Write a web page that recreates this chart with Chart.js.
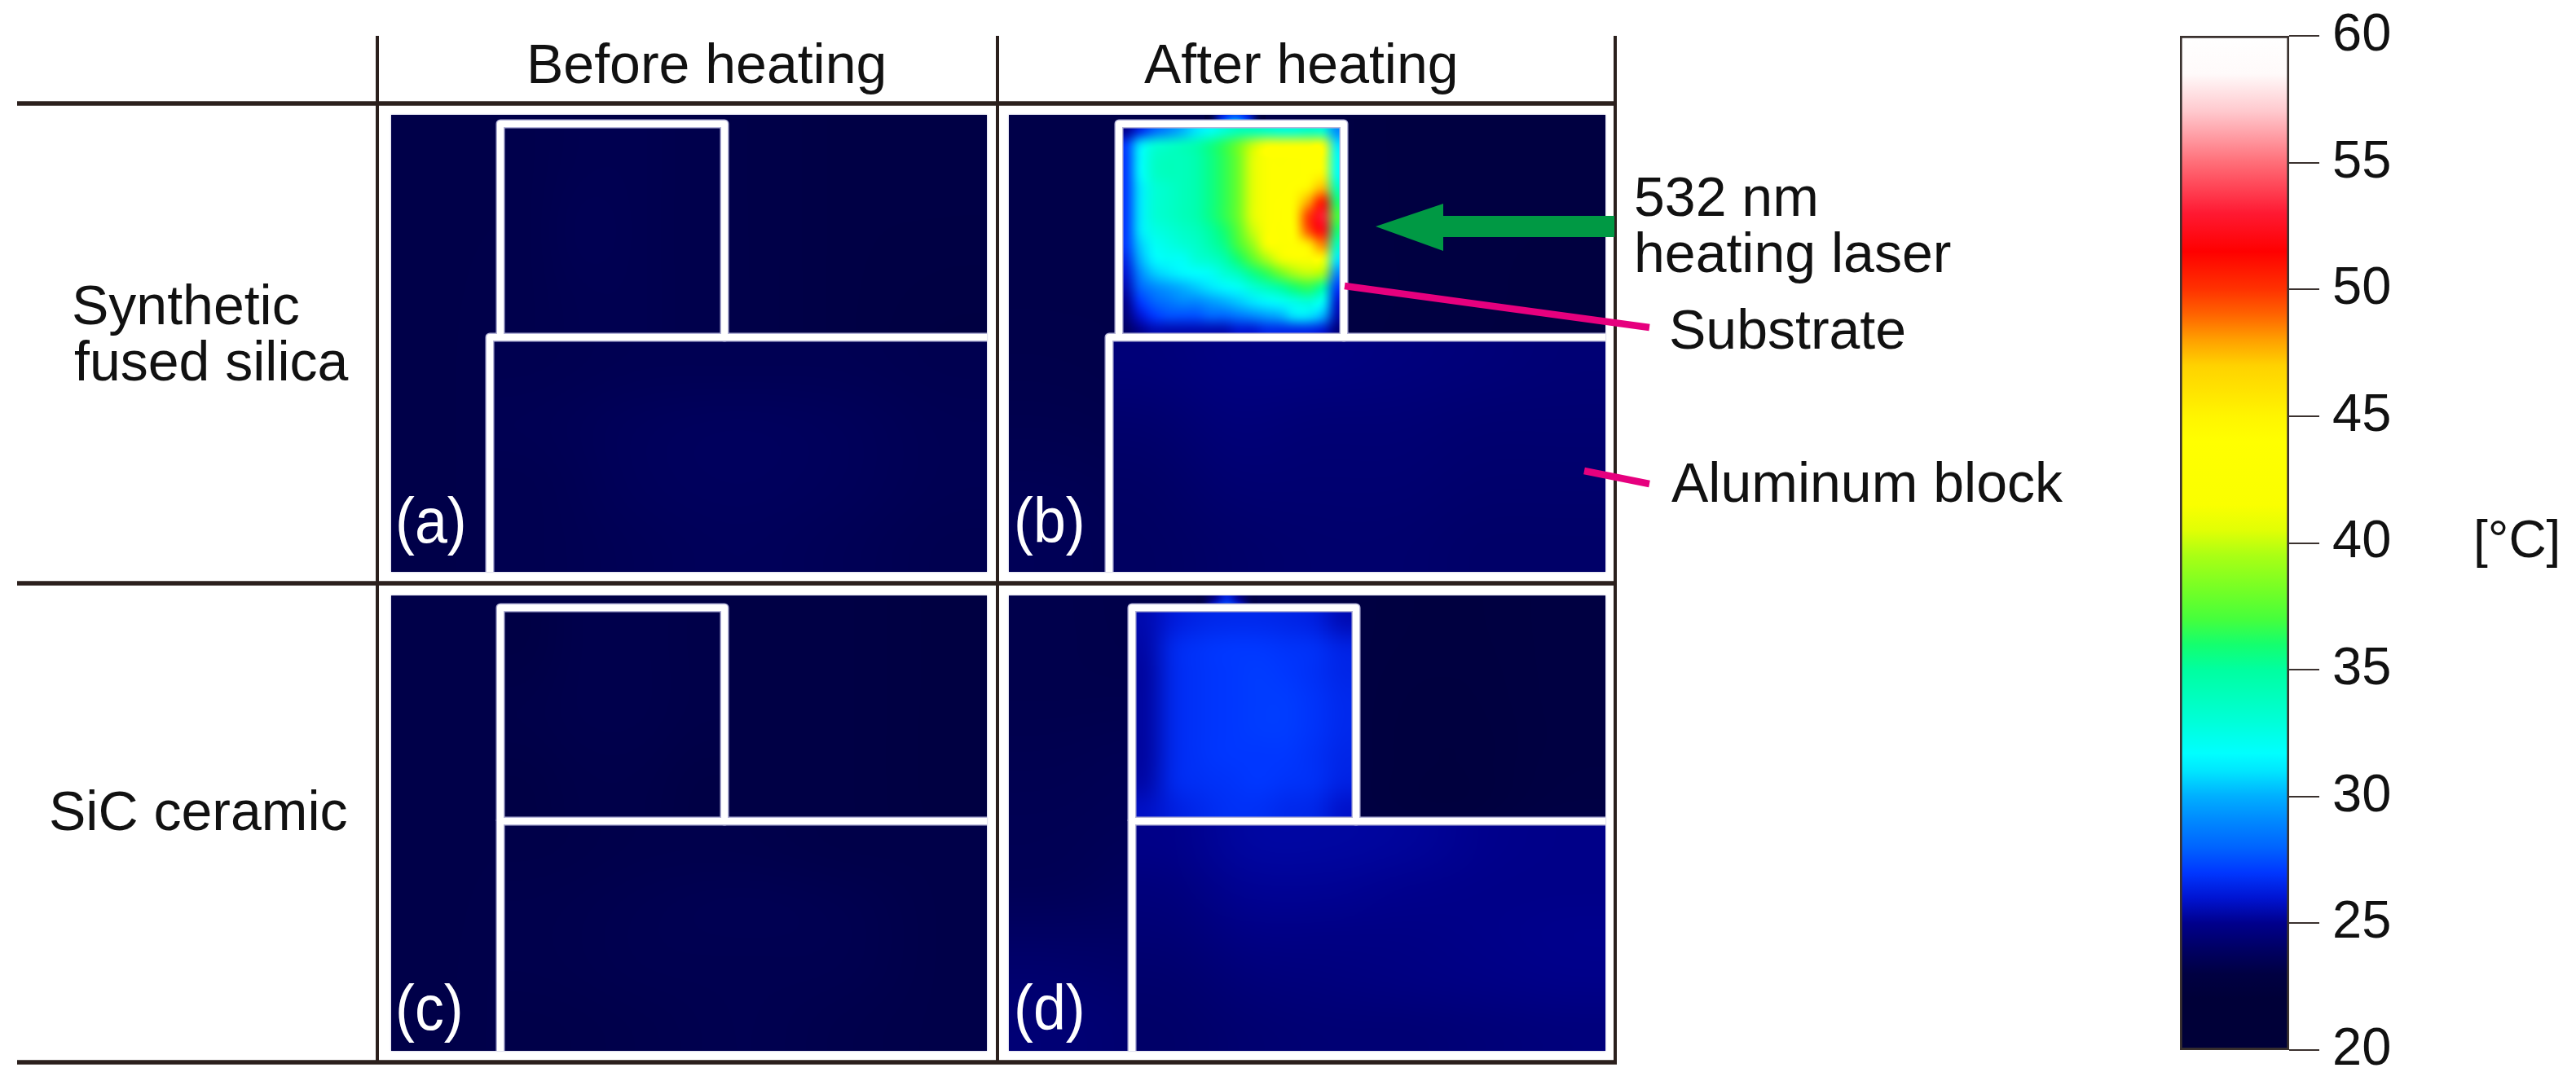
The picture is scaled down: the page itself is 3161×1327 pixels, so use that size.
<!DOCTYPE html>
<html lang="en">
	<head>
		<meta charset="utf-8">
		<title>Thermal images before and after heating</title>
		<script src="https://cdnjs.cloudflare.com/ajax/libs/Chart.js/4.4.1/chart.umd.min.js"></script>
		<style>
			html, body { margin: 0; background: #fff; width: 3161px; height: 1327px; overflow: hidden; }
			canvas { position: absolute; }
			.panel { box-shadow: 0 0 2px #a8a8d0; }
			.t { position: absolute; font: 68px/1 "Liberation Sans", Arial, sans-serif; color: #111; white-space: nowrap; z-index: 2; }
			.tag { font-size: 78px; color: #fff; transform: scaleX(0.92); transform-origin: left; }
			svg { position: absolute; left: 0; top: 0; z-index: 1; }
		</style>
	</head>
	<body>
		<svg width="3161" height="1327">
			<g stroke="#2b201d" fill="none">
				<path stroke-width="5.5" d="M21 127H1984M21 716H1984M21 1304H1984"/>
				<path stroke-width="4" d="M463 44V1306M1224 44V1306M1982 44V1306"/>
			</g>
			<path fill="#009944" d="M1981 265H1771V250L1688 278L1771 308V291H1981Z"/>
			<g stroke="#e6007e" stroke-width="8.5">
				<path d="M1650 351L2024 402"/>
				<path d="M1944 578L2024 594"/>
			</g>
		</svg>

		<div class="t" style="left:646px;top:44px">Before heating</div>
		<div class="t" style="left:1404px;top:44px">After heating</div>
		<div class="t" style="left:88px;top:340px">Synthetic</div>
		<div class="t" style="left:91px;top:409px">fused silica</div>
		<div class="t" style="left:60px;top:961px">SiC ceramic</div>
		<div class="t" style="left:2005px;top:207px">532 nm</div>
		<div class="t" style="left:2005px;top:276px">heating laser</div>
		<div class="t" style="left:2048px;top:370px">Substrate</div>
		<div class="t" style="left:2051px;top:558px">Aluminum block</div>
		<div class="t" style="left:3035px;top:630px;font-size:64px">[°C]</div>
		<div class="t tag" style="left:485px;top:600px">(a)</div>
		<div class="t tag" style="left:1244px;top:600px">(b)</div>
		<div class="t tag" style="left:485px;top:1198px">(c)</div>
		<div class="t tag" style="left:1244px;top:1198px">(d)</div>

		<canvas id="panelA" class="panel" width="731" height="561" style="left:480px;top:141px"></canvas>
		<canvas id="panelB" class="panel" width="732" height="561" style="left:1238px;top:141px"></canvas>
		<canvas id="panelC" class="panel" width="731" height="559" style="left:480px;top:731px"></canvas>
		<canvas id="panelD" class="panel" width="732" height="559" style="left:1238px;top:731px"></canvas>
		<canvas id="colorbar" width="300" height="1327" style="left:2650px;top:0"></canvas>

		<script>
			// colour scale
			const barTicks = [20, 25, 30, 35, 40, 45, 50, 55, 60]
			const stopTemps = [20, 22, 23, 24, 25, 26, 27, 28, 29, 30, 31, 31.7, 33, 35, 36, 37, 38, 39.5, 40.5, 41.5, 44, 45, 47, 48, 49, 50, 51.5, 53, 55, 57, 58.5, 60]
			const stopColors = [
				[0,0,56],[0,0,56],[0,0,66],[0,0,100],[0,0,140],[0,20,210],[0,55,255],[0,100,255],[0,135,255],[0,175,255],[0,230,255],[0,255,255],
				[0,255,215],[0,255,160],[20,255,110],[70,255,60],[110,255,40],[170,255,20],[225,255,5],[250,255,0],[255,255,0],[255,245,0],
				[255,210,0],[255,160,0],[255,100,0],[255,50,0],[255,0,0],[255,25,50],[255,110,120],[255,200,205],[255,250,250],[255,255,255]
			]

			// outlines, in thermal image pixels
			const subAX = [134, 134, 409, 409], subAY = [273, 11, 11, 273]
			const blockAX = [121, 121, 731], blockAY = [561, 273, 273]
			const subBX = [135, 135, 411, 411], subBY = [273, 11, 11, 273]
			const blockBX = [123, 123, 732], blockBY = [561, 273, 273]
			const subCX = [134, 134, 409, 409], subCY = [277, 15, 15, 277]
			const blockCX = [134, 134, 731], blockCY = [559, 277, 277]
			const subDX = [151, 151, 426, 426], subDY = [277, 15, 15, 277]
			const blockDX = [151, 151, 732], blockDY = [559, 277, 277]
			const glowBX = [240, 315], glowDX = [230, 305]

			// temperatures in deg C
			const backA = [
				[23.2, 23.2, 23.1, 23.2, 23.1, 23.1],
				[23.2, 23.3, 23.2, 23.2, 23.1, 23.0],
				[23.2, 23.3, 23.2, 23.2, 23.1, 23.0]
			]
			const subA = [
				[23.3, 23.4, 23.4, 23.3],
				[23.3, 23.5, 23.4, 23.3],
				[23.3, 23.4, 23.4, 23.3]
			]
			const blockA = [
				[23.4, 23.5, 23.5, 23.5, 23.4],
				[23.5, 23.7, 23.8, 23.7, 23.5],
				[23.4, 23.7, 23.8, 23.7, 23.5],
				[23.4, 23.6, 23.7, 23.6, 23.4]
			]
			const backB = [
				[23.2, 23.2, 23.2, 23.0, 22.9, 22.9],
				[23.2, 23.2, 23.1, 23.0, 22.9, 22.8],
				[23.3, 23.2, 23.1, 23.0, 22.9, 22.9],
				[23.6, 23.4, 23.2, 23.2, 23.2, 23.3]
			]
			const subB = [
				[25, 26.5, 28, 29, 30, 31, 32, 33, 34, 34, 33.5, 33, 33, 33.5, 33, 29],
				[27, 31, 33, 33.5, 34, 34.5, 35.5, 36.5, 38, 40, 42, 42.5, 43, 43, 43, 31],
				[27, 31.5, 33.5, 34, 34, 34.5, 35.5, 36.5, 38, 40.5, 42.5, 43, 43.5, 44, 44, 32],
				[27, 31.5, 33.5, 34, 34, 34.5, 35.5, 36.5, 38, 40.5, 42.5, 43.5, 43.5, 44, 44.5, 32],
				[27, 31, 33, 33.5, 34, 34.5, 35.5, 36.5, 38, 40.5, 42.5, 43.5, 44, 45, 47.5, 34],
				[27, 31, 33, 33.5, 34, 34.5, 35.5, 36.5, 38, 40.5, 42.5, 44, 44.5, 48, 51, 36],
				[27, 31, 33, 33.5, 34, 34.5, 35.5, 36.5, 38, 40.5, 42.5, 44, 45, 50, 53, 37],
				[27, 31, 32.5, 33, 33.5, 34, 35, 36, 37.5, 40, 42.5, 43.5, 44.5, 49.5, 52, 36],
				[27, 30.5, 32, 32.5, 33, 33.5, 34.5, 35.5, 37, 39, 41.5, 43, 44, 45.5, 48.5, 34],
				[26.5, 30, 31.5, 32, 32, 33, 33.5, 34.5, 36, 37.5, 39.5, 41, 42, 42.5, 42.5, 31],
				[26, 29, 30.5, 31, 31.5, 31.7, 32, 33, 34, 35.5, 36.5, 38, 39.5, 40, 39.5, 29],
				[25.5, 28, 29, 29.5, 30, 30.5, 31, 31.5, 32, 33, 34, 35, 36, 36.5, 35, 27],
				[25, 27, 28, 28.5, 29, 29, 29.5, 30, 30.5, 31, 31.5, 32, 32.5, 33, 32, 26],
				[24.5, 26, 27, 27.5, 27.5, 27.5, 28, 28, 28.5, 29, 29.5, 30, 31, 31, 30, 25.5],
				[24, 25, 25.5, 25.5, 25.5, 25.5, 25.5, 25.5, 26, 26, 26.5, 26.5, 26.5, 26.5, 26, 24.5]
			]
			const blockB = [
				[24.5, 24.7, 24.7, 24.6, 24.5, 24.4],
				[24.2, 24.5, 24.4, 24.4, 24.3, 24.3],
				[24.0, 24.3, 24.3, 24.3, 24.2, 24.2],
				[23.9, 24.1, 24.2, 24.2, 24.1, 24.1]
			]
			const glowB = [[23, 26.5, 28, 26.5, 23], [23, 28, 31, 28, 23]]
			const backC = [
				[23.2, 23.2, 23.1, 23.1, 23.1, 23.0],
				[23.2, 23.2, 23.1, 23.1, 23.1, 23.0],
				[23.2, 23.3, 23.2, 23.1, 23.1, 23.1]
			]
			const subC = [
				[23.1, 23.3, 23.3, 23.2],
				[23.2, 23.3, 23.3, 23.2],
				[23.1, 23.2, 23.2, 23.1]
			]
			const blockC = [
				[23.2, 23.3, 23.3, 23.2, 23.2],
				[23.3, 23.4, 23.5, 23.4, 23.2],
				[23.3, 23.4, 23.4, 23.4, 23.2],
				[23.2, 23.3, 23.4, 23.3, 23.2]
			]
			const backD = [
				[23.3, 23.2, 23.3, 23.0, 22.8, 23.0],
				[23.3, 23.3, 23.3, 22.9, 22.7, 23.0],
				[23.4, 23.5, 23.3, 22.9, 22.6, 23.0],
				[23.5, 23.6, 23.3, 23.0, 22.7, 23.1],
				[23.6, 23.8, 23.4, 23.4, 23.5, 23.6],
				[24.1, 24.0, 23.7, 23.6, 23.6, 23.6],
				[24.4, 24.2, 23.7, 23.6, 23.6, 23.6]
			]
			const subD = [
				[25.5, 26.2, 26.5, 26.6, 26.6, 26.5, 26.3, 25.6],
				[25.4, 26.6, 26.9, 27.0, 27.0, 26.9, 26.8, 26.4],
				[25.3, 26.6, 26.9, 27.0, 27.1, 27.0, 26.8, 26.5],
				[25.3, 26.6, 26.9, 27.0, 27.1, 27.1, 26.9, 26.6],
				[25.3, 26.6, 26.9, 27.0, 27.1, 27.1, 26.9, 26.6],
				[25.3, 26.6, 26.9, 27.0, 27.0, 27.0, 26.8, 26.5],
				[25.4, 26.6, 26.8, 26.9, 27.0, 26.9, 26.8, 26.4],
				[25.8, 26.3, 26.6, 26.8, 26.8, 26.6, 26.5, 25.9]
			]
			const blockD = [
				[24.9, 25.3, 25.3, 25.2, 25.0, 24.9],
				[24.6, 25.1, 25.1, 25.0, 24.9, 24.9],
				[24.4, 24.8, 24.8, 24.8, 24.9, 25.0],
				[24.2, 24.5, 24.6, 24.7, 24.8, 24.9],
				[24.1, 24.3, 24.4, 24.4, 24.5, 24.6]
			]
			const glowD = [[23.2, 25, 26.5, 25, 23.2], [23.2, 26, 27.5, 26, 23.2]]

			function colorOf(t) {
				let i = stopTemps.findIndex(s => s >= t)
				if (i <= 0) return stopColors[Math.max(i, 0)]
				const k = (t - stopTemps[i - 1]) / (stopTemps[i] - stopTemps[i - 1])
				return stopColors[i].map((c, n) => stopColors[i - 1][n] + (c - stopColors[i - 1][n]) * k)
			}

			function gridImage(grid) {
				const c = document.createElement("canvas")
				c.width = grid[0].length
				c.height = grid.length
				const g = c.getContext("2d")
				const img = g.createImageData(c.width, c.height)
				grid.forEach((row, y) => row.forEach((t, x) => {
					img.data.set([...colorOf(t), 255], (y * c.width + x) * 4)
				}))
				g.putImageData(img, 0, 0)
				return c
			}

			const thermalImage = {
				id: "thermalImage",
				beforeDatasetsDraw(chart, args, opts) {
					const { x, y } = chart.scales
					const ctx = chart.ctx
					ctx.save()
					ctx.imageSmoothingEnabled = true
					ctx.imageSmoothingQuality = "high"
					opts.layers.forEach(l => {
						const x0 = x.getPixelForValue(l.xr[0]), x1 = x.getPixelForValue(l.xr[1])
						const y0 = y.getPixelForValue(l.yr[0]), y1 = y.getPixelForValue(l.yr[1])
						ctx.drawImage(gridImage(l.grid), x0, y0, x1 - x0, y1 - y0)
					})
					ctx.restore()
				}
			}

			function outline(xs, ys, color, width) {
				return {
					data: xs.map((v, i) => ({ x: v, y: ys[i] })),
					showLine: true,
					pointRadius: 0,
					borderColor: color,
					borderWidth: width,
					borderJoinStyle: "round"
				}
			}

			function panel(id, back, sub, subX, subY, block, blockX, blockY, glow, glowX) {
				const canvas = document.getElementById(id)
				const range = a => [Math.min(...a), Math.max(...a)]
				const layers = [
					{ grid: back, xr: [0, canvas.width], yr: [0, canvas.height] },
					{ grid: block, xr: range(blockX), yr: range(blockY) },
					{ grid: sub, xr: range(subX), yr: range(subY) }
				]
				if (glow) layers.splice(1, 0, { grid: glow, xr: glowX, yr: [0, subY[1]] })
				new Chart(canvas, {
					type: "scatter",
					data: {
						// first dataset ends up on top
						datasets: [
							outline(subX, subY, "#fff", 8),
							outline(blockX, blockY, "#fff", 8),
							outline(subX, subY, "#b4b4d8", 11),
							outline(blockX, blockY, "#b4b4d8", 11)
						]
					},
					options: {
						responsive: false,
						animation: false,
						layout: { padding: 0 },
						plugins: { legend: { display: false }, tooltip: { enabled: false }, thermalImage: { layers } },
						scales: {
							x: { type: "linear", display: false, min: 0, max: canvas.width },
							y: { type: "linear", display: false, reverse: true, min: 0, max: canvas.height }
						}
					},
					plugins: [thermalImage]
				})
			}

			panel("panelA", backA, subA, subAX, subAY, blockA, blockAX, blockAY)
			panel("panelB", backB, subB, subBX, subBY, blockB, blockBX, blockBY, glowB, glowBX)
			panel("panelC", backC, subC, subCX, subCY, blockC, blockCX, blockCY)
			panel("panelD", backD, subD, subDX, subDY, blockD, blockDX, blockDY, glowD, glowDX)

			new Chart(document.getElementById("colorbar"), {
				type: "bar",
				data: {
					labels: [""],
					datasets: [{
						data: [[barTicks[0], barTicks[barTicks.length - 1]]],
						barPercentage: 1,
						categoryPercentage: 1,
						borderSkipped: false,
						borderWidth: 3,
						borderColor: "#3a312e",
						backgroundColor(ctx) {
							const { chart } = ctx
							if (!chart.chartArea) return "#000"
							const y = chart.scales.y
							const g = chart.ctx.createLinearGradient(0, y.getPixelForValue(20), 0, y.getPixelForValue(60))
							stopTemps.forEach((t, i) => g.addColorStop((t - 20) / 40, "rgb(" + stopColors[i].join(",") + ")"))
							return g
						}
					}]
				},
				options: {
					responsive: false,
					animation: false,
					layout: { padding: { left: 25, right: 16, top: 44, bottom: 38 } },
					plugins: { legend: { display: false }, tooltip: { enabled: false } },
					scales: {
						x: { display: false },
						y: {
							position: "right",
							min: barTicks[0],
							max: barTicks[barTicks.length - 1],
							afterBuildTicks(axis) { axis.ticks = barTicks.map(v => ({ value: v })) },
							afterFit(axis) {
								axis.width = 125
								axis.paddingTop = 0
								axis.paddingBottom = 0
							},
							border: { display: false },
							grid: { drawOnChartArea: false, color: "#3a312e", lineWidth: 2, tickLength: 37 },
							ticks: { padding: 16, color: "#111", font: { family: "Liberation Sans", size: 65 } }
						}
					}
				}
			})
		</script>
	</body>
</html>
